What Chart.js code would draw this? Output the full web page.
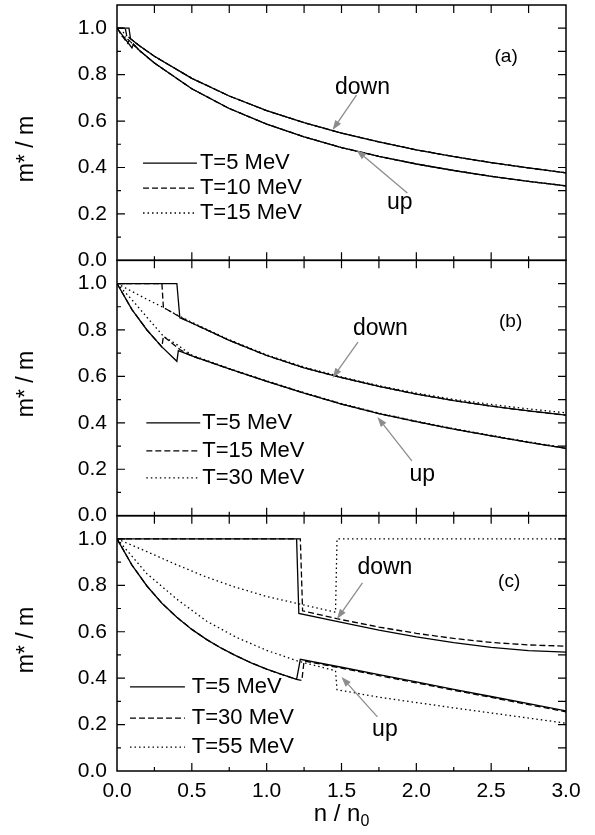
<!DOCTYPE html>
<html>
<head>
<meta charset="utf-8">
<script src="https://cdn.jsdelivr.net/npm/chart.js@4.4.0/dist/chart.umd.min.js"></script>
<style>
  html, body { margin: 0; padding: 0; background: #fff; }
</style>
</head>
<body>
<canvas id="chart" width="595" height="835"></canvas>
<script>
// axis ticks
const xTicks = [0, 0.5, 1.0, 1.5, 2.0, 2.5, 3.0];
const yTicks = [0, 0.2, 0.4, 0.6, 0.8, 1.0];

// panel (a)
const tempsA = ['T=5 MeV', 'T=10 MeV', 'T=15 MeV'];
const nTailA = [0.25, 0.5, 0.75, 1.0, 1.25, 1.5, 1.75, 2.0, 2.25, 2.5, 2.75, 3.0];
const downTailA = [0.879, 0.784, 0.708, 0.645, 0.593, 0.548, 0.51, 0.476, 0.447, 0.421, 0.398, 0.377];
const upTailA = [0.85, 0.739, 0.654, 0.587, 0.532, 0.486, 0.448, 0.415, 0.387, 0.362, 0.34, 0.321];
const nDownA5 = [0, 0.08, 0.09, 0.15], mDownA5 = [1, 1, 0.955, 0.924];
const nUpA5 = [0, 0.1, 0.11, 0.15], mUpA5 = [1, 0.915, 0.932, 0.904];
const nDownA10 = [0, 0.055, 0.065, 0.15], mDownA10 = [1, 1, 0.968, 0.924];
const nUpA10 = [0, 0.07, 0.08, 0.15], mUpA10 = [1, 0.935, 0.948, 0.904];
const nDownA15 = [0, 0.035, 0.045, 0.15], mDownA15 = [1, 1, 0.978, 0.924];
const nUpA15 = [0, 0.045, 0.055, 0.15], mUpA15 = [1, 0.955, 0.963, 0.904];

// panel (b)
const tempsB = ['T=5 MeV', 'T=15 MeV', 'T=30 MeV'];
const nTailB = [0.5, 0.75, 1.0, 1.25, 1.5, 1.75, 2.0, 2.25, 2.5, 2.75, 3.0];
const downTailB = [0.83, 0.755, 0.69, 0.637, 0.595, 0.557, 0.524, 0.496, 0.472, 0.451, 0.433];
const upTailB = [0.688, 0.632, 0.579, 0.528, 0.481, 0.44, 0.405, 0.373, 0.344, 0.316, 0.29];
const downTailB30 = [0.833, 0.758, 0.693, 0.64, 0.598, 0.56, 0.528, 0.501, 0.479, 0.46, 0.443];
const upTailB30 = [0.692, 0.634, 0.581, 0.53, 0.483, 0.442, 0.407, 0.375, 0.346, 0.318, 0.292];
const nDownB5 = [0, 0.4, 0.42], mDownB5 = [1, 1, 0.852];
const nUpB5 = [0, 0.1, 0.2, 0.3, 0.4, 0.41], mUpB5 = [1, 0.888, 0.8, 0.727, 0.665, 0.711];
const nDownB15 = [0, 0.3, 0.31, 0.42], mDownB15 = [1, 1, 0.897, 0.856];
const nUpB15 = [0, 0.1, 0.2, 0.3, 0.31, 0.42], mUpB15 = [1, 0.888, 0.8, 0.727, 0.773, 0.716];
const nDownB30 = [0, 0.1, 0.2, 0.3, 0.4], mDownB30 = [1, 0.966, 0.932, 0.9, 0.865];
const nUpB30 = [0, 0.1, 0.2, 0.31, 0.4], mUpB30 = [1, 0.93, 0.855, 0.773, 0.737];

// panel (c)
const tempsC = ['T=5 MeV', 'T=30 MeV', 'T=55 MeV'];
const nHeadC = [0, 0.1, 0.2, 0.3, 0.4, 0.5, 0.6, 0.7, 0.8, 0.9, 1.0, 1.1, 1.2];
const upHeadC = [1, 0.887, 0.797, 0.723, 0.662, 0.61, 0.566, 0.528, 0.495, 0.465, 0.439, 0.416, 0.395];
const nDownC5 = [0, 1.2, 1.215, 1.5, 1.75, 2.0, 2.25, 2.5, 2.75, 3.0];
const mDownC5 = [1, 1, 0.679, 0.64, 0.607, 0.578, 0.553, 0.533, 0.519, 0.512];
const nUpC5 = [1.225, 1.5, 1.75, 2.0, 2.25, 2.5, 2.75, 3.0];
const mUpC5 = [0.481, 0.447, 0.415, 0.384, 0.352, 0.321, 0.29, 0.259];
const nDownC30 = [0, 1.225, 1.24, 1.5, 1.75, 2.0, 2.25, 2.5, 2.75, 3.0];
const mDownC30 = [1, 1, 0.69, 0.652, 0.62, 0.593, 0.571, 0.554, 0.543, 0.538];
const nUpC30 = [1.235, 1.25, 1.5, 1.75, 2.0, 2.25, 2.5, 2.75, 3.0];
const mUpC30 = [0.39, 0.474, 0.443, 0.411, 0.38, 0.348, 0.317, 0.286, 0.255];
const nDownC55 = [0, 0.2, 0.4, 0.6, 0.8, 1.0, 1.2, 1.46, 1.47, 3.0];
const mDownC55 = [1, 0.945, 0.888, 0.835, 0.79, 0.752, 0.722, 0.684, 1.0, 1.0];
const nUpC55 = [0, 0.2, 0.4, 0.6, 0.8, 1.0, 1.2, 1.46, 1.47, 1.75, 2.0, 2.25, 2.5, 2.75, 3.0];
const mUpC55 = [1, 0.85, 0.74, 0.645, 0.575, 0.52, 0.475, 0.432, 0.35, 0.318, 0.295, 0.272, 0.25, 0.228, 0.206];

const FONT = "'Liberation Sans', Arial, Helvetica, sans-serif";
const DASHES = [[], [6, 3], [1.5, 3]];

function pts(n, m) {
  return n.map((v, i) => ({ x: v, y: m[i] }));
}

function line(axis, style, n, m) {
  return {
    data: pts(n, m),
    yAxisID: axis,
    borderColor: '#000',
    borderWidth: 1.3,
    borderDash: DASHES[style],
    pointRadius: 0,
    fill: false,
    tension: 0
  };
}

const datasets = [
  line('yA', 0, nDownA5.concat(nTailA), mDownA5.concat(downTailA)),
  line('yA', 0, nUpA5.concat(nTailA), mUpA5.concat(upTailA)),
  line('yA', 1, nDownA10.concat(nTailA), mDownA10.concat(downTailA)),
  line('yA', 1, nUpA10.concat(nTailA), mUpA10.concat(upTailA)),
  line('yA', 2, nDownA15.concat(nTailA), mDownA15.concat(downTailA)),
  line('yA', 2, nUpA15.concat(nTailA), mUpA15.concat(upTailA)),

  line('yB', 0, nDownB5.concat(nTailB), mDownB5.concat(downTailB)),
  line('yB', 0, nUpB5.concat(nTailB), mUpB5.concat(upTailB)),
  line('yB', 1, nDownB15.concat(nTailB), mDownB15.concat(downTailB)),
  line('yB', 1, nUpB15.concat(nTailB), mUpB15.concat(upTailB)),
  line('yB', 2, nDownB30.concat(nTailB), mDownB30.concat(downTailB30)),
  line('yB', 2, nUpB30.concat(nTailB), mUpB30.concat(upTailB30)),

  line('yC', 0, nDownC5, mDownC5),
  line('yC', 0, nHeadC.concat(nUpC5), upHeadC.concat(mUpC5)),
  line('yC', 1, nDownC30, mDownC30),
  line('yC', 1, nHeadC.concat(nUpC30), upHeadC.concat(mUpC30)),
  line('yC', 2, nDownC55, mDownC55),
  line('yC', 2, nUpC55, mUpC55)
];

// panel decorations: legend anchor, label, arrows (data units)
const panels = [
  { axis: 'yA', tag: '(a)', tagAt: [2.6, 0.876], temps: tempsA, legX: [0.174, 0.534, 0.554], legY: [0.419, 0.311, 0.204],
    down: [1.64, 0.742], downArrow: [1.6, 0.712, 1.44, 0.561], up: [1.89, 0.247], upArrow: [1.94, 0.29, 1.6, 0.475] },
  { axis: 'yB', tag: '(b)', tagAt: [2.63, 0.835], temps: tempsB, legX: [0.196, 0.556, 0.57], legY: [0.40, 0.279, 0.163],
    down: [1.76, 0.805], downArrow: [1.61, 0.748, 1.44, 0.593], up: [2.04, 0.175], upArrow: [1.97, 0.236, 1.74, 0.425] },
  { axis: 'yC', tag: '(c)', tagAt: [2.62, 0.814], temps: tempsC, legX: [0.087, 0.454, 0.5], legY: [0.362, 0.228, 0.103],
    down: [1.79, 0.875], downArrow: [1.64, 0.81, 1.47, 0.655], up: [1.79, 0.177], upArrow: [1.74, 0.233, 1.5, 0.405] }
];
const yTitleCenter = [149, 384, 640];

function arrow(ctx, x0, y0, x1, y1) {
  const a = Math.atan2(y1 - y0, x1 - x0);
  const hl = 10, hw = 3.5;
  const bx = x1 - hl * Math.cos(a), by = y1 - hl * Math.sin(a);
  ctx.beginPath();
  ctx.moveTo(x0, y0);
  ctx.lineTo(bx, by);
  ctx.stroke();
  ctx.beginPath();
  ctx.moveTo(x1, y1);
  ctx.lineTo(bx + hw * Math.sin(a), by - hw * Math.cos(a));
  ctx.lineTo(bx - hw * Math.sin(a), by + hw * Math.cos(a));
  ctx.closePath();
  ctx.fill();
}

const decor = {
  id: 'decor',
  afterDraw(chart) {
    const ctx = chart.ctx;
    const xs = chart.scales.x;
    const L = chart.chartArea.left, R = chart.chartArea.right;
    ctx.save();
    panels.forEach((p, k) => {
      const ys = chart.scales[p.axis];
      const T = ys.top, B = ys.bottom;
      const px = v => xs.getPixelForValue(v);
      const py = v => ys.getPixelForValue(v);

      // frame and inward ticks
      ctx.setLineDash([]);
      ctx.strokeStyle = '#000';
      ctx.lineWidth = 1.5;
      ctx.strokeRect(L, T, R - L, B - T);
      ctx.lineWidth = 1.2;
      ctx.beginPath();
      for (let i = 1; i <= 10; i++) {
        const y = py(i / 10);
        ctx.moveTo(L, y); ctx.lineTo(L + (i % 2 === 0 ? 8 : 4), y);
        ctx.moveTo(R, y); ctx.lineTo(R - 8, y);
      }
      for (let i = 1; i < 12; i++) {
        const x = px(i * 0.25);
        ctx.moveTo(x, B); ctx.lineTo(x, B - (i % 2 === 0 ? 8 : 4));
        ctx.moveTo(x, T); ctx.lineTo(x, T + 8);
      }
      ctx.stroke();

      // legend
      ctx.fillStyle = '#000';
      ctx.font = '22px ' + FONT;
      ctx.textAlign = 'left';
      ctx.textBaseline = 'middle';
      p.temps.forEach((t, i) => {
        const y = py(p.legY[i]);
        ctx.setLineDash(DASHES[i]);
        ctx.lineWidth = 1.3;
        ctx.beginPath();
        ctx.moveTo(px(p.legX[0]), y);
        ctx.lineTo(px(p.legX[1]), y);
        ctx.stroke();
        ctx.setLineDash([]);
        ctx.fillText(t, px(p.legX[2]), y);
      });

      // panel tag
      ctx.textAlign = 'center';
      ctx.font = '19px ' + FONT;
      ctx.fillText(p.tag, px(p.tagAt[0]), py(p.tagAt[1]));

      // down / up labels with arrows
      ctx.font = '23px ' + FONT;
      ctx.fillText('down', px(p.down[0]), py(p.down[1]));
      ctx.fillText('up', px(p.up[0]), py(p.up[1]));
      ctx.strokeStyle = '#8c8c8c';
      ctx.fillStyle = '#8c8c8c';
      ctx.lineWidth = 1.3;
      const d = p.downArrow, u = p.upArrow;
      arrow(ctx, px(d[0]), py(d[1]), px(d[2]), py(d[3]));
      arrow(ctx, px(u[0]), py(u[1]), px(u[2]), py(u[3]));

      // y title
      ctx.fillStyle = '#000';
      ctx.save();
      ctx.translate(27, yTitleCenter[k]);
      ctx.rotate(-Math.PI / 2);
      ctx.font = '23px ' + FONT;
      ctx.textAlign = 'center';
      ctx.textBaseline = 'middle';
      ctx.fillText('m* / m', 0, 0);
      ctx.restore();
    });

    // x title with subscript
    ctx.fillStyle = '#000';
    ctx.textAlign = 'left';
    ctx.textBaseline = 'alphabetic';
    const main = 'n / n';
    ctx.font = '24px ' + FONT;
    const w1 = ctx.measureText(main).width;
    ctx.font = '16px ' + FONT;
    const w2 = ctx.measureText('0').width;
    const x0 = (L + R) / 2 - (w1 + w2) / 2;
    ctx.font = '24px ' + FONT;
    ctx.fillText(main, x0, 821);
    ctx.font = '16px ' + FONT;
    ctx.fillText('0', x0 + w1, 826);
    ctx.restore();
  }
};

function yAxis() {
  return {
    type: 'linear',
    position: 'left',
    stack: 'm',
    stackWeight: 1,
    min: 0,
    max: 1.1,
    grid: { display: false, drawTicks: false },
    border: { display: false },
    afterBuildTicks: s => { s.ticks = yTicks.map(v => ({ value: v })); },
    afterFit: s => { s.width = 117; s.paddingTop = 0; s.paddingBottom = 0; },
    ticks: {
      padding: 10,
      autoSkip: false,
      color: '#000',
      font: { family: FONT, size: 21 },
      callback: v => Number(v).toFixed(1)
    }
  };
}

new Chart(document.getElementById('chart'), {
  type: 'line',
  data: { datasets },
  options: {
    responsive: false,
    animation: false,
    devicePixelRatio: 1,
    layout: { padding: { top: 5, right: 29, left: 0, bottom: 0 } },
    plugins: { legend: { display: false }, tooltip: { enabled: false } },
    scales: {
      x: {
        type: 'linear',
        min: 0,
        max: 3,
        grid: { display: false, drawTicks: false },
        border: { display: false },
        afterBuildTicks: s => { s.ticks = xTicks.map(v => ({ value: v })); },
        afterFit: s => { s.height = 64; s.paddingLeft = 0; s.paddingRight = 0; },
        ticks: {
          padding: 8,
          autoSkip: false,
          color: '#000',
          maxRotation: 0,
          font: { family: FONT, size: 21 },
          callback: v => Number(v).toFixed(1)
        }
      },
      yC: yAxis(),
      yB: yAxis(),
      yA: yAxis()
    }
  },
  plugins: [decor]
});
</script>
</body>
</html>
